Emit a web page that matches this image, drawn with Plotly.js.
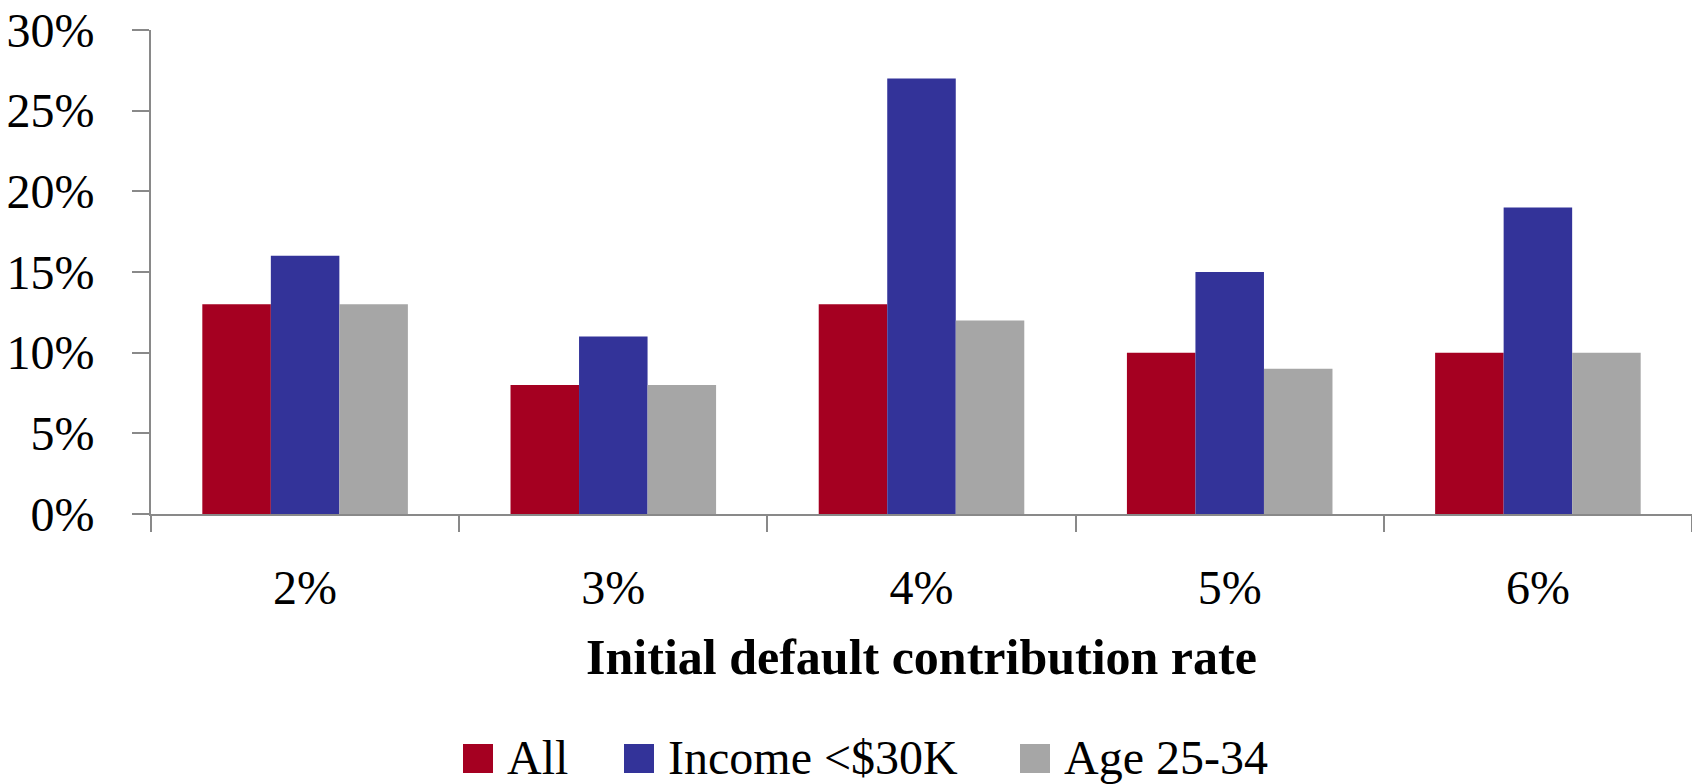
<!DOCTYPE html>
<html>
<head>
<meta charset="utf-8">
<script src="https://cdn.plot.ly/plotly-3.0.1.min.js"></script>
<style>html,body{margin:0;padding:0;background:#fff;}#chart{width:1692px;height:784px;}</style>
</head>
<body>
<div id="chart"></div>
<script>
const categories = ["2%", "3%", "4%", "5%", "6%"];
const seriesNames = ["All", "Income <$30K", "Age 25-34"];
const allValues = [13, 8, 13, 10, 10];
const incomeValues = [16, 11, 27, 15, 19];
const ageValues = [13, 8, 12, 9, 10];
const yTickValues = [0, 5, 10, 15, 20, 25, 30];
const xTitle = "Initial default contribution rate";

const colors = ["#A50021", "#333399", "#A6A6A6"];
const values = [allValues, incomeValues, ageValues];
const FONT = "'Liberation Serif', 'Times New Roman', serif";

const W = 1692, H = 784;
const M = {l: 151, r: 0, t: 30, b: 270};
const pw = W - M.l - M.r, ph = H - M.t - M.b;
const px = x => (x - M.l) / pw;
const py = y => (H - M.b - y) / ph;

const traces = values.map((v, i) => ({
  type: "bar",
  x: categories,
  y: v,
  name: seriesNames[i],
  marker: {color: colors[i], line: {width: 0}},
  showlegend: false,
  hoverinfo: "skip"
}));

// custom legend (large square swatches)
const legendSquares = [463, 624, 1020];
const shapes = [], annotations = [];
seriesNames.forEach((n, i) => {
  shapes.push({type: "rect", xref: "paper", yref: "paper",
    x0: px(legendSquares[i]), x1: px(legendSquares[i] + 30),
    y0: py(773), y1: py(744), fillcolor: colors[i], line: {width: 0}});
  annotations.push({xref: "paper", yref: "paper", x: px(legendSquares[i] + 42), y: py(758),
    xanchor: "left", yanchor: "middle", text: n, showarrow: false,
    font: {family: FONT, size: 48, color: "#000"}});
});

const layout = {
  width: W, height: H,
  margin: M,
  paper_bgcolor: "#fff", plot_bgcolor: "#fff",
  font: {family: FONT, size: 48, color: "#000"},
  barmode: "group", bargap: 0.333, bargroupgap: 0,
  xaxis: {
    type: "category",
    tickson: "boundaries",
    ticks: "outside", ticklen: 16, tickwidth: 2, tickcolor: "#898989",
    showline: true, linecolor: "#898989", linewidth: 2,
    showgrid: false, zeroline: false,
    ticklabelstandoff: 30,
    tickfont: {family: FONT, size: 48},
    title: {text: xTitle, font: {family: FONT, size: 50, weight: "bold"}, standoff: 26}
  },
  yaxis: {
    range: [0, 30],
    tickvals: yTickValues,
    ticktext: yTickValues.map(v => v + "%"),
    ticks: "outside", ticklen: 17, tickwidth: 2, tickcolor: "#898989",
    showline: true, linecolor: "#898989", linewidth: 2,
    showgrid: false, zeroline: false,
    ticklabelstandoff: 28,
    tickfont: {family: FONT, size: 48}
  },
  shapes: shapes,
  annotations: annotations
};

Plotly.newPlot("chart", traces, layout, {displayModeBar: false, staticPlot: true});
</script>
</body>
</html>
